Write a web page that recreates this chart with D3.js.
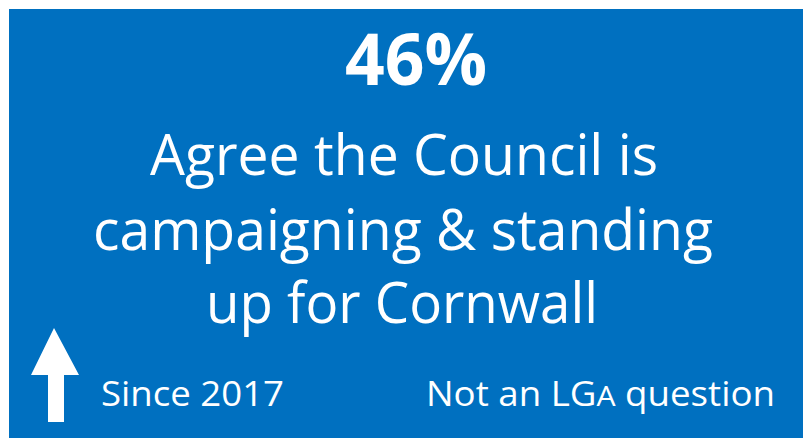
<!DOCTYPE html>
<html>
<head>
<meta charset="utf-8">
<script src="https://cdn.jsdelivr.net/npm/d3@7/dist/d3.min.js"></script>
<style>
  html, body { margin: 0; padding: 0; background: #ffffff; }
  svg { display: block; }
  text { font-family: "Open Sans", "Noto Sans", sans-serif; fill: #ffffff; }
</style>
</head>
<body>
<svg id="card" width="803" height="438"></svg>
<script>
// Headline figure and its caption
const headlineValue = [46];
const headlineSuffix = ["%"];
const captionLines = ["Agree the Council is", "campaigning & standing", "up for Cornwall"];
const trendLabel = ["Since 2017"];
const noteLabel = ["Not an LGA question"];

const W = 803, H = 438;
const svg = d3.select("#card");

// Blue panel
svg.append("rect")
  .attr("x", 9).attr("y", 9)
  .attr("width", W - 9).attr("height", H - 9)
  .attr("fill", "#0070C0");

// Big percentage
svg.append("text")
  .attr("x", 345).attr("y", 85)
  .attr("font-size", 72).attr("font-weight", 700)
  .attr("textLength", 142).attr("lengthAdjust", "spacingAndGlyphs")
  .text(headlineValue[0] + headlineSuffix[0]);

// Caption lines: left edge, right edge, baseline
const captionLayout = [
  { x0: 150, x1: 658, y: 175 },
  { x0: 93,  x1: 713, y: 250 },
  { x0: 206, x1: 598, y: 323 }
];
svg.selectAll("text.caption")
  .data(captionLines)
  .join("text")
  .attr("class", "caption")
  .attr("x", (d, i) => captionLayout[i].x0)
  .attr("y", (d, i) => captionLayout[i].y)
  .attr("font-size", 57)
  .attr("textLength", (d, i) => captionLayout[i].x1 - captionLayout[i].x0)
  .attr("lengthAdjust", "spacingAndGlyphs")
  .text(d => d);

// Upward trend arrow
const arrow = d3.path();
arrow.moveTo(54, 328);
arrow.lineTo(79, 375);
arrow.lineTo(64, 375);
arrow.lineTo(64, 422);
arrow.lineTo(48, 422);
arrow.lineTo(48, 375);
arrow.lineTo(31, 375);
arrow.closePath();
svg.append("path").attr("d", arrow.toString()).attr("fill", "#ffffff");

// Footer labels
svg.append("text")
  .attr("x", 101).attr("y", 406)
  .attr("font-size", 34)
  .attr("textLength", 183).attr("lengthAdjust", "spacingAndGlyphs")
  .text(trendLabel[0]);

// "Not an LGA question" with a smaller capital A
const note = noteLabel[0];
const aIdx = note.indexOf("LGA") + 2;
const noteText = svg.append("text")
  .attr("x", 426).attr("y", 406)
  .attr("font-size", 34)
  .attr("textLength", 349).attr("lengthAdjust", "spacingAndGlyphs");
noteText.append("tspan").text(note.slice(0, aIdx));
noteText.append("tspan").attr("font-size", 28).text(note.slice(aIdx, aIdx + 1));
noteText.append("tspan").text(note.slice(aIdx + 1));
</script>
</body>
</html>
